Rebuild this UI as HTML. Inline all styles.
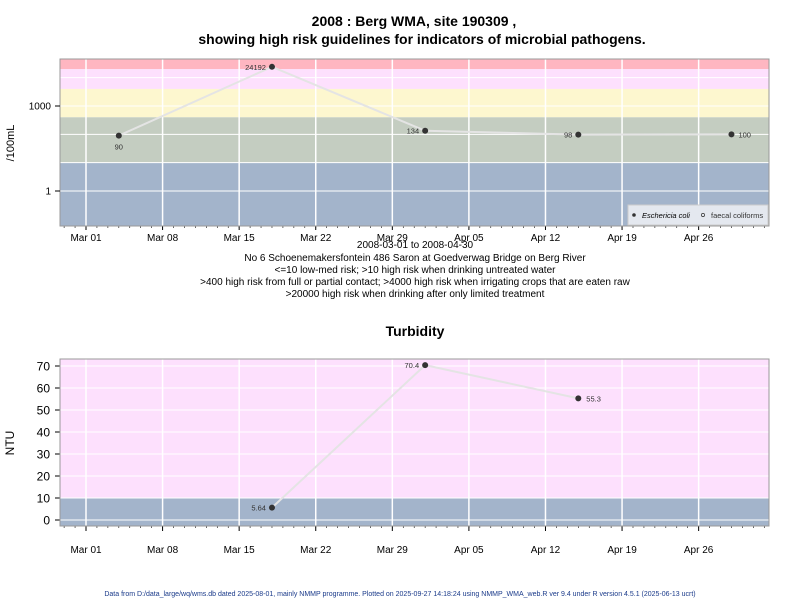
<!DOCTYPE html>
<html><head><meta charset="utf-8"><style>
body{margin:0;background:#fff;width:800px;height:600px;overflow:hidden}
svg{font-family:"Liberation Sans",sans-serif}
</style></head><body>
<svg id="s" width="800" height="600" xmlns="http://www.w3.org/2000/svg">
<text x="414" y="26" text-anchor="middle" font-size="14" font-weight="bold">2008 : Berg WMA, site 190309 ,</text>
<text x="422" y="44" text-anchor="middle" font-size="14" font-weight="bold">showing high risk guidelines for indicators of microbial pathogens.</text>
<g id="top"></g>
<g id="bot"></g>
<g font-size="10" text-anchor="middle">
<text x="415" y="248">2008-03-01 to 2008-04-30</text>
<text x="415" y="261">No 6 Schoenemakersfontein 486 Saron at Goedverwag Bridge on Berg River</text>
<text x="415" y="273">&lt;=10 low-med risk; &gt;10 high risk when drinking untreated water</text>
<text x="415" y="285">&gt;400 high risk from full or partial contact; &gt;4000 high risk when irrigating crops that are eaten raw</text>
<text x="415" y="297">&gt;20000 high risk when drinking after only limited treatment</text>
</g>
<text x="415" y="336" text-anchor="middle" font-size="14" font-weight="bold">Turbidity</text>
<text x="400" y="596" text-anchor="middle" font-size="7" fill="#1a3a8a">Data from D:/data_large/wq/wms.db dated 2025-08-01, mainly NMMP programme. Plotted on 2025-09-27 14:18:24 using NMMP_WMA_web.R ver 9.4 under R version 4.5.1 (2025-06-13 ucrt)</text>
</svg>
<script>
var ecoliDays=[3,17,31,45,59];
var ecoliVals=[90,24192,134,98,100];
var turbDays=[17,31,45];
var turbVals=[5.64,70.4,55.3];
var tickLabels=["Mar 01","Mar 08","Mar 15","Mar 22","Mar 29","Apr 05","Apr 12","Apr 19","Apr 26"];
var ns="http://www.w3.org/2000/svg";
var X0=60,X1=769;
function xS(d){return 86+d*10.94;}
function mk(p,t,a){var e=document.createElementNS(ns,t);for(var k in a)e.setAttribute(k,a[k]);p.appendChild(e);return e;}
var T=document.getElementById('top');
function yT(v){return 191-28.33*Math.log10(v);}
var tTop=59,tBot=226;
var bands=[[1e6,20000,'#ffb6c1'],[20000,4000,'#fde0fd'],[4000,400,'#fdf7cf'],[400,10,'#c4cdc1'],[10,0.01,'#a3b4cb']];
bands.forEach(function(b){var y1=Math.max(tTop,yT(b[0])),y2=Math.min(tBot,yT(b[1]));
var r=mk(T,'rect',{x:X0,y:y1,width:X1-X0,height:y2-y1,fill:b[2]});

});
[10000,1000,100,10,1].forEach(function(v){mk(T,'line',{x1:X0,x2:X1,y1:yT(v),y2:yT(v),stroke:'#fff','stroke-width':1});});
tickLabels.forEach(function(l,i){var x=xS(i*7);mk(T,'line',{x1:x,x2:x,y1:tTop,y2:tBot,stroke:'#fff','stroke-width':1.5});
mk(T,'line',{x1:x,x2:x,y1:tBot,y2:tBot+4,stroke:'#000'});
var t=mk(T,'text',{x:x,y:241,'text-anchor':'middle','font-size':10});t.textContent=l;

});
for(var d=-2;d<63;d++){var x=xS(d);if(x>X0&&x<X1)mk(T,'line',{x1:x,x2:x,y1:tBot,y2:tBot+2,stroke:'#000','stroke-width':0.6});}
mk(T,'rect',{x:X0,y:tTop,width:X1-X0,height:tBot-tTop,fill:'none',stroke:'#999'});
[[1000,'1000'],[1,'1']].forEach(function(a){var y=yT(a[0]);mk(T,'line',{x1:55,x2:X0,y1:y,y2:y,stroke:'#000'});
var t=mk(T,'text',{x:51,y:y+3.5,'text-anchor':'end','font-size':10});t.textContent=a[1];

});
var yl=mk(T,'text',{x:0,y:0,transform:'translate(14,143) rotate(-90)','text-anchor':'middle','font-size':11});yl.textContent='/100mL';


var pts=ecoliDays.map(function(d,i){return xS(d)+','+yT(ecoliVals[i]);}).join(' ');
var pl=mk(T,'polyline',{points:pts,fill:'none',stroke:'#e4e4e4','stroke-width':2});


ecoliDays.forEach(function(d,i){var x=xS(d),y=yT(ecoliVals[i]);
var c=mk(T,'circle',{cx:x,cy:y,r:3,fill:'#333'});


var a=i==0?{x:x,y:y+14,'text-anchor':'middle'}:(i==4?{x:x+7,y:y+3,'text-anchor':'start'}:{x:x-6,y:y+3,'text-anchor':'end'});
a['font-size']=7.5;a.fill='#333';var t=mk(T,'text',a);t.textContent=ecoliVals[i];

});
var lg=mk(T,'g',{});


mk(lg,'rect',{x:628,y:205,width:140,height:20,fill:'#e4e8ef',stroke:'#ccc'});
mk(lg,'circle',{cx:634,cy:215,r:1.8,fill:'#333'});
var t1=mk(lg,'text',{x:642,y:218,'font-size':7.5,'font-style':'italic'});t1.textContent='Eschericia coli';
mk(lg,'circle',{cx:703,cy:215,r:1.6,fill:'none',stroke:'#333','stroke-width':0.7});
var t2=mk(lg,'text',{x:711,y:218,'font-size':7.5,fill:'#333'});t2.textContent='faecal coliforms';
var B=document.getElementById('bot');
var bTop=359,bBot=526;
function yB(v){return 520-v*2.2;}
var r1=mk(B,'rect',{x:X0,y:bTop,width:X1-X0,height:yB(10)-bTop,fill:'#fde0fd'});


var r2=mk(B,'rect',{x:X0,y:yB(10),width:X1-X0,height:bBot-yB(10),fill:'#a3b4cb'});


for(var v=0;v<=70;v+=10){var y=yB(v);mk(B,'line',{x1:X0,x2:X1,y1:y,y2:y,stroke:'#fff'});
mk(B,'line',{x1:55,x2:X0,y1:y,y2:y,stroke:'#000'});
var t=mk(B,'text',{x:50,y:y+4.5,'text-anchor':'end','font-size':12});t.textContent=v;

}
tickLabels.forEach(function(l,i){var x=xS(i*7);mk(B,'line',{x1:x,x2:x,y1:bTop,y2:bBot,stroke:'#fff','stroke-width':1.5});
mk(B,'line',{x1:x,x2:x,y1:bBot,y2:bBot+5,stroke:'#000'});
var t=mk(B,'text',{x:x,y:553,'text-anchor':'middle','font-size':10});t.textContent=l;

});
for(var d=-2;d<63;d++){var x=xS(d);if(x>X0&&x<X1)mk(B,'line',{x1:x,x2:x,y1:bBot,y2:bBot+2,stroke:'#000','stroke-width':0.6});}
mk(B,'rect',{x:X0,y:bTop,width:X1-X0,height:bBot-bTop,fill:'none',stroke:'#999'});
var yl2=mk(B,'text',{x:0,y:0,transform:'translate(14,443) rotate(-90)','text-anchor':'middle','font-size':12});yl2.textContent='NTU';


var pts2=turbDays.map(function(d,i){return xS(d)+','+yB(turbVals[i]);}).join(' ');
var pl2=mk(B,'polyline',{points:pts2,fill:'none',stroke:'#e4e4e4','stroke-width':2});


turbDays.forEach(function(d,i){var x=xS(d),y=yB(turbVals[i]);
var c=mk(B,'circle',{cx:x,cy:y,r:3,fill:'#333'});


var a=i==2?{x:x+8,y:y+3,'text-anchor':'start'}:{x:x-6,y:y+3,'text-anchor':'end'};
a['font-size']=7.5;a.fill='#333';var t=mk(B,'text',a);t.textContent=turbVals[i];

});
</script>
</body></html>
